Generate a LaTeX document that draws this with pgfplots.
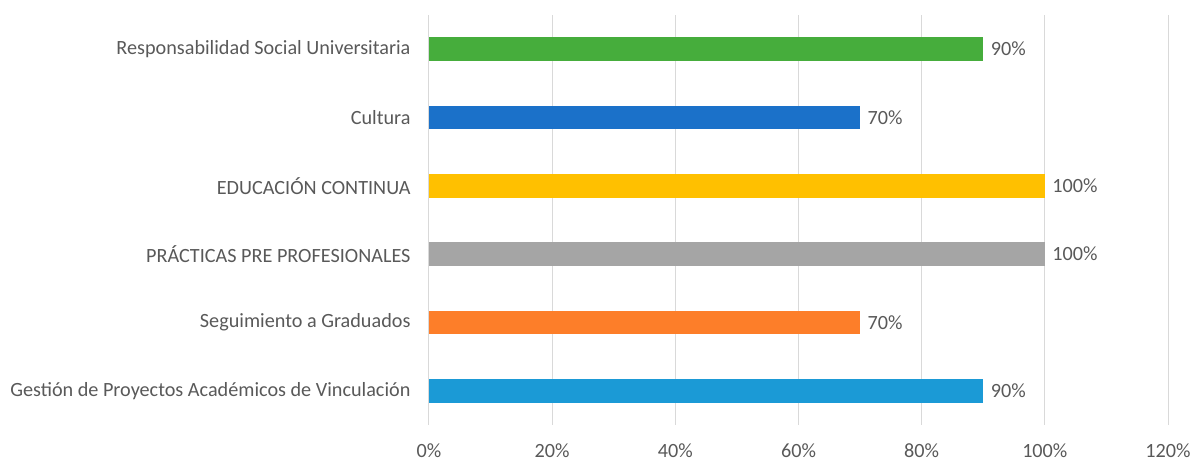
\documentclass[border=0pt]{standalone}
\usepackage{pgfplots}
\pgfplotsset{compat=1.18}
\usepackage{fontspec}
\setmainfont{Carlito}
\definecolor{txt}{HTML}{595959}
\definecolor{gridc}{HTML}{D9D9D9}
\definecolor{cgreen}{HTML}{46AD3C}
\definecolor{cblue}{HTML}{1B71C9}
\definecolor{cyellow}{HTML}{FFC000}
\definecolor{cgray}{HTML}{A5A5A5}
\definecolor{corange}{HTML}{FD7E29}
\definecolor{clight}{HTML}{1B9AD6}
\begin{document}
\begin{tikzpicture}
\begin{axis}[
    scale only axis,
    width=739pt, height=410pt,
    xbar, bar width=0.35, bar shift=0pt,
    xmin=0, xmax=120,
    ymin=-0.5, ymax=5.5,
    xtick={0,20,...,120},
    xticklabel={\pgfmathprintnumber{\tick}\%},
    ytick={0,1,2,3,4,5},
    yticklabels={Gestión de Proyectos Académicos de Vinculación,
                 Seguimiento a Graduados,
                 PRÁCTICAS PRE PROFESIONALES,
                 EDUCACIÓN CONTINUA,
                 Cultura,
                 Responsabilidad Social Universitaria},
    axis line style={draw=none},
    major tick length=0pt,
    xmajorgrids, grid style={gridc, line width=1pt},
    tick label style={font=\fontsize{20.2}{23}\selectfont, text=txt},
    xticklabel style={yshift=-15pt},
    yticklabel style={xshift=-15pt},
    /pgf/number format/assume math mode=true,
    nodes near coords={\pgfmathprintnumber{\pgfplotspointmeta}\%},
    nodes near coords style={font=\fontsize{20.2}{23}\selectfont, text=txt, anchor=west, xshift=4pt},
    every axis plot/.append style={draw=none},
    clip=false,
]
\addplot[fill=clight] coordinates {(90,0)};
\addplot[fill=corange] coordinates {(70,1)};
\addplot[fill=cgray] coordinates {(100,2)};
\addplot[fill=cyellow] coordinates {(100,3)};
\addplot[fill=cblue] coordinates {(70,4)};
\addplot[fill=cgreen] coordinates {(90,5)};
\path (rel axis cs:0,0) ++(-429pt,-37pt) coordinate (bl);
\path (rel axis cs:1,1) ++(29pt,15pt) coordinate (tr);
\path (bl) rectangle (tr);
\end{axis}
\end{tikzpicture}
\end{document}
